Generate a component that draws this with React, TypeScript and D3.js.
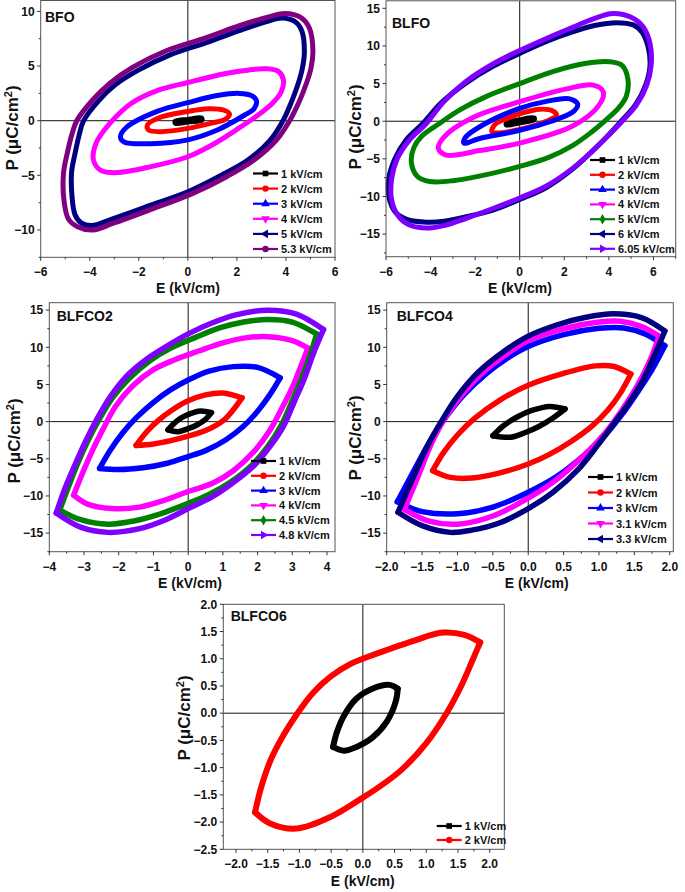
import React from 'react';
import * as d3 from 'd3';

type Pt = [number, number];

// ---------------- BFO ----------------
const bfoLabels = ['1 kV/cm', '2 kV/cm', '3 kV/cm', '4 kV/cm', '5 kV/cm', '5.3 kV/cm'];
const bfoColors = ['#000000', '#ff0000', '#0000ff', '#ff00ff', '#000080', '#800080'];
const bfoSymbols = ['square', 'circle', 'triUp', 'triDown', 'triLeft', 'circle'];
const bfo1: Pt[] = [[0.55, 0.25], [0.58, 0.05], [0, -0.12], [-0.5, -0.25], [-0.52, -0.05], [0, 0.12]];
const bfo2: Pt[] = [[0.8, 1.1], [1.45, 0.98], [1.7, 0.6], [1.5, 0.1], [1.0, -0.2], [0, -0.7], [-1.1, -1.0], [-1.6, -0.85], [-1.65, -0.4], [-1.2, 0.25], [0, 0.85]];
const bfo3: Pt[] = [[2.1, 2.5], [2.6, 2.3], [2.8, 1.8], [2.7, 1.1], [2.3, 0.5], [1.2, -0.85], [0, -1.75], [-1.5, -2.1], [-2.6, -1.95], [-2.75, -1.5], [-2.5, -0.6], [-1.2, 0.9], [0, 1.65], [1.2, 2.3]];
const bfo4: Pt[] = [[3.2, 4.75], [3.7, 4.5], [3.9, 3.7], [3.8, 2.6], [3.45, 1.6], [2.85, 0.5], [2.0, -0.8], [1.0, -2.2], [0, -3.3], [-1.5, -4.2], [-2.9, -4.75], [-3.55, -4.55], [-3.85, -3.6], [-3.75, -2.1], [-3.2, -0.3], [-2.3, 1.6], [-1.2, 2.8], [0, 3.5], [1.5, 4.3], [2.5, 4.65]];
const bfo5: Pt[] = [[3.85, 9.4], [4.38, 9.05], [4.65, 8.2], [4.75, 6.2], [4.65, 4.6], [4.47, 3.2], [4.22, 1.7], [3.88, 0], [3.35, -1.8], [2.45, -3.6], [1.35, -5.0], [0.05, -6.45], [-1.6, -7.8], [-3.1, -9.0], [-3.92, -9.6], [-4.35, -9.35], [-4.6, -8.6], [-4.72, -7.0], [-4.74, -4.7], [-4.6, -3], [-4.42, -1.2], [-4.25, 0], [-3.65, 1.8], [-2.95, 3.3], [-2.0, 4.65], [-0.75, 6.0], [0.75, 7.15], [2.1, 8.25], [3.25, 9.1]];
const bfo53: Pt[] = [[3.95, 9.8], [4.6, 9.45], [4.95, 8.5], [5.1, 6.4], [5.02, 4.8], [4.83, 3.4], [4.56, 1.85], [4.15, 0], [3.6, -1.8], [2.7, -3.6], [1.6, -5.1], [0.2, -6.65], [-1.6, -8.2], [-3.06, -9.4], [-3.88, -10], [-4.5, -9.7], [-4.87, -9.0], [-5.05, -7.3], [-5.07, -4.8], [-4.92, -3], [-4.72, -1.2], [-4.53, 0], [-3.9, 1.85], [-3.2, 3.4], [-2.24, 4.9], [-0.88, 6.4], [0.75, 7.6], [2.1, 8.7], [3.3, 9.5]];
const bfoLoops = [bfo1, bfo2, bfo3, bfo4, bfo5, bfo53];
const bfoXTicks = [-6, -4, -2, 0, 2, 4, 6];
const bfoYTicks = [-10, -5, 0, 5, 10];

// ---------------- BLFO ----------------
const blfoLabels = ['1 kV/cm', '2 kV/cm', '3 kV/cm', '4 kV/cm', '5 kV/cm', '6 kV/cm', '6.05 kV/cm'];
const blfoColors = ['#000000', '#ff0000', '#0000ff', '#ff00ff', '#008000', '#000080', '#8000ff'];
const blfoSymbols = ['square', 'circle', 'triUp', 'triDown', 'diamond', 'triLeft', 'triRight'];
const blfo1: Pt[] = [[0.65, 0.45], [0.65, 0.2], [0, -0.2], [-0.6, -0.5], [-0.6, -0.25], [0, 0.2]];
const blfo2: Pt[] = [[0.9, 1.6], [1.5, 1.35], [1.65, 0.8], [1.2, 0], [0, -1.1], [-0.9, -1.55], [-1.25, -1.35], [-1.1, -0.4], [-0.5, 0.45], [0, 1.0]];
const blfo3: Pt[] = [[2.2, 3.0], [2.6, 2.3], [2.45, 1.4], [1.8, 0.4], [0, -1.2], [-1.8, -2.3], [-2.5, -2.9], [-2.45, -2.2], [-1.6, -0.4], [0, 1.7], [1.3, 2.7]];
const blfo4: Pt[] = [[3.3, 4.8], [3.75, 3.9], [3.55, 2.1], [2.4, -0.6], [0, -2.9], [-1.8, -3.9], [-3.3, -4.5], [-3.65, -3.6], [-3.4, -2.1], [-2.1, 0.5], [0, 2.6], [2.1, 4.3]];
const blfo5: Pt[] = [[4.04, 7.9], [4.6, 7.4], [4.86, 5.5], [4.78, 3.3], [4.45, 1.8], [3.85, 0.1], [3.2, -1.5], [2.39, -3.2], [1.3, -4.8], [0, -6.0], [-1.49, -7.1], [-2.99, -7.9], [-4.04, -8.0], [-4.6, -7.3], [-4.86, -5.5], [-4.75, -3.5], [-4.4, -2.0], [-3.6, -0.3], [-2.69, 1.5], [-1.49, 3.3], [0, 5.0], [1.49, 6.6], [2.99, 7.7]];
const blfo6: Pt[] = [[4.33, 13.1], [5.1, 12.8], [5.5, 11.8], [5.75, 10.0], [5.85, 7.5], [5.65, 4.8], [5.2, 2.2], [4.55, 0], [3.6, -3.0], [2.4, -6.3], [1.2, -8.8], [0, -10.4], [-1.2, -11.8], [-2.4, -12.7], [-3.4, -13.3], [-4.3, -13.4], [-5.1, -13.0], [-5.6, -12.0], [-5.85, -10.3], [-5.88, -7.7], [-5.6, -5.0], [-5.1, -2.5], [-4.35, -0.3], [-3.5, 2.5], [-2.4, 5.1], [-1.2, 7.3], [0, 9.0], [1.2, 10.6], [2.4, 11.9], [3.4, 12.75]];
const blfo605: Pt[] = [[4.19, 14.3], [5.0, 13.8], [5.55, 12.5], [5.85, 10.3], [5.9, 7.5], [5.7, 4.8], [5.25, 2.2], [4.6, 0], [3.6, -3.0], [2.4, -6.2], [1.2, -8.6], [0, -10.2], [-1.2, -11.6], [-2.4, -12.9], [-3.3, -13.8], [-4.19, -14.2], [-4.95, -13.8], [-5.45, -12.6], [-5.75, -10.4], [-5.75, -7.7], [-5.5, -5.0], [-4.95, -2.5], [-4.19, -0.3], [-3.4, 2.6], [-2.4, 5.3], [-1.2, 7.6], [0, 9.4], [1.2, 11.0], [2.4, 12.5], [3.3, 13.6]];
const blfoLoops = [blfo1, blfo2, blfo3, blfo4, blfo5, blfo6, blfo605];
const blfoXTicks = [-6, -4, -2, 0, 2, 4, 6];
const blfoYTicks = [-15, -10, -5, 0, 5, 10, 15];

// ---------------- BLFCO2 ----------------
const blfco2Labels = ['1 kV/cm', '2 kV/cm', '3 kV/cm', '4 kV/cm', '4.5 kV/cm', '4.8 kV/cm'];
const blfco2Colors = ['#000000', '#ff0000', '#0000ff', '#ff00ff', '#008000', '#8000ff'];
const blfco2Symbols = ['square', 'circle', 'triUp', 'triDown', 'diamond', 'triRight'];
const blfco2_1_up: Pt[] = [[-0.58, -1.1], [-0.42, -0.3], [-0.2, 0.5], [0.05, 1.05], [0.35, 1.42], [0.67, 1.2]];
const blfco2_1_dn: Pt[] = [[0.67, 1.2], [0.5, 0.3], [0.25, -0.45], [0, -0.95], [-0.3, -1.35], [-0.58, -1.1]];
const blfco2_2_up: Pt[] = [[-1.5, -3.2], [-1.2, -1.4], [-0.85, 0.2], [-0.45, 1.6], [0, 2.8], [0.5, 3.6], [1.0, 3.85], [1.55, 3.2]];
const blfco2_2_dn: Pt[] = [[1.55, 3.2], [1.3, 1.6], [1.0, 0.1], [0.5, -1.2], [0, -1.95], [-0.5, -2.55], [-1.0, -3.0], [-1.5, -3.2]];
const blfco2_3_up: Pt[] = [[-2.55, -6.3], [-2.25, -3.9], [-1.9, -1.6], [-1.5, 0.5], [-1.0, 2.6], [-0.5, 4.3], [0, 5.6], [0.6, 6.8], [1.3, 7.4], [2.0, 7.3], [2.65, 5.9]];
const blfco2_3_dn: Pt[] = [[2.65, 5.9], [2.35, 3.6], [2.0, 1.4], [1.6, -0.6], [1.1, -2.4], [0.5, -3.9], [0, -4.7], [-0.6, -5.6], [-1.3, -6.2], [-2.0, -6.45], [-2.55, -6.3]];
const blfco2_4_up: Pt[] = [[-3.3, -9.9], [-3.05, -7.0], [-2.75, -3.8], [-2.45, -1.0], [-2.1, 2.0], [-1.6, 4.8], [-1.0, 7.0], [-0.4, 8.3], [0.3, 9.5], [1.0, 10.6], [1.7, 11.3], [2.4, 11.4], [3.0, 10.9], [3.45, 9.9]];
const blfco2_4_dn: Pt[] = [[3.45, 9.9], [3.25, 7.5], [3.0, 4.6], [2.7, 1.8], [2.35, -1.2], [1.9, -4.0], [1.3, -6.6], [0.7, -8.3], [0, -9.4], [-0.7, -10.6], [-1.4, -11.5], [-2.2, -11.7], [-2.9, -11.1], [-3.3, -9.9]];
const blfco2_45_up: Pt[] = [[-3.7, -11.9], [-3.45, -8.8], [-3.17, -5.5], [-2.88, -2.5], [-2.55, 0.4], [-2.18, 3.2], [-1.7, 5.8], [-1.1, 8.2], [-0.5, 9.9], [0.2, 11.3], [0.9, 12.6], [1.6, 13.4], [2.3, 13.75], [3.0, 13.4], [3.7, 11.8]];
const blfco2_45_dn: Pt[] = [[3.7, 11.8], [3.52, 9.0], [3.25, 5.6], [2.97, 2.5], [2.68, -0.5], [2.3, -3.3], [1.8, -6.0], [1.2, -8.2], [0.6, -9.8], [0, -11.0], [-0.8, -12.4], [-1.6, -13.4], [-2.3, -13.8], [-3.1, -13.2], [-3.7, -11.9]];
const blfco2_48_up: Pt[] = [[-3.8, -12.3], [-3.55, -9.0], [-3.25, -5.7], [-2.95, -2.6], [-2.62, 0.4], [-2.25, 3.3], [-1.8, 6.0], [-1.2, 8.4], [-0.6, 10.2], [0, 11.8], [0.7, 13.3], [1.4, 14.4], [2.3, 15.0], [3.1, 14.5], [3.9, 12.4]];
const blfco2_48_dn: Pt[] = [[3.9, 12.4], [3.62, 9.3], [3.34, 5.7], [3.05, 2.6], [2.76, -0.5], [2.38, -3.2], [1.9, -5.9], [1.3, -8.2], [0.7, -10.1], [0, -11.7], [-0.7, -13.3], [-1.4, -14.4], [-2.3, -14.9], [-3.1, -14.2], [-3.8, -12.3]];
const blfco2Loops: Pt[][][] = [
  [blfco2_1_up, blfco2_1_dn], [blfco2_2_up, blfco2_2_dn], [blfco2_3_up, blfco2_3_dn],
  [blfco2_4_up, blfco2_4_dn], [blfco2_45_up, blfco2_45_dn], [blfco2_48_up, blfco2_48_dn],
];
const blfco2XTicks = [-4, -3, -2, -1, 0, 1, 2, 3, 4];
const blfco2YTicks = [-15, -10, -5, 0, 5, 10, 15];

// ---------------- BLFCO4 ----------------
const blfco4Labels = ['1 kV/cm', '2 kV/cm', '3 kV/cm', '3.1 kV/cm', '3.3 kV/cm'];
const blfco4Colors = ['#000000', '#ff0000', '#0000ff', '#ff00ff', '#000080'];
const blfco4Symbols = ['square', 'circle', 'triUp', 'triDown', 'triLeft'];
const blfco4_1_up: Pt[] = [[-0.5, -1.9], [-0.35, -0.55], [-0.15, 0.65], [0.05, 1.5], [0.3, 2.05], [0.52, 1.7]];
const blfco4_1_dn: Pt[] = [[0.52, 1.7], [0.35, 0.5], [0.15, -0.65], [-0.05, -1.5], [-0.25, -2.1], [-0.5, -1.9]];
const blfco4_2_up: Pt[] = [[-1.35, -6.6], [-1.2, -4.2], [-1.0, -1.8], [-0.75, 0.5], [-0.4, 2.9], [0, 4.9], [0.5, 6.5], [0.95, 7.5], [1.2, 7.45], [1.45, 6.4]];
const blfco4_2_dn: Pt[] = [[1.45, 6.4], [1.3, 3.8], [1.12, 1.5], [0.9, -0.6], [0.6, -2.7], [0.3, -4.4], [0, -5.7], [-0.4, -6.9], [-0.8, -7.6], [-1.1, -7.5], [-1.35, -6.6]];
const blfco4_3_up: Pt[] = [[-1.85, -10.8], [-1.6, -6.3], [-1.38, -2.5], [-1.18, 0.4], [-0.92, 3.5], [-0.6, 6.4], [-0.3, 8.5], [0, 10.1], [0.5, 11.7], [1.0, 12.55], [1.35, 12.6], [1.65, 11.8], [1.93, 10.2]];
const blfco4_3_dn: Pt[] = [[1.93, 10.2], [1.75, 7.0], [1.54, 3.9], [1.32, 0.9], [1.08, -1.9], [0.78, -4.6], [0.4, -7.4], [0, -9.5], [-0.5, -11.5], [-1.0, -12.4], [-1.5, -12.1], [-1.85, -10.8]];
const blfco4_31_up: Pt[] = [[-1.75, -11.8], [-1.55, -7.2], [-1.36, -2.8], [-1.18, 0.4], [-0.92, 3.8], [-0.62, 6.8], [-0.3, 9.1], [0, 10.9], [0.5, 12.5], [1.0, 13.4], [1.3, 13.5], [1.6, 12.8], [1.85, 11.5]];
const blfco4_31_dn: Pt[] = [[1.85, 11.5], [1.72, 8.2], [1.54, 4.8], [1.32, 1.5], [1.08, -1.6], [0.78, -4.6], [0.4, -7.8], [0, -10.3], [-0.5, -12.7], [-1.0, -13.8], [-1.4, -13.4], [-1.75, -11.8]];
const blfco4_33_up: Pt[] = [[-1.84, -12.2], [-1.62, -7.4], [-1.42, -3.2], [-1.23, 0], [-1.0, 3.4], [-0.7, 6.7], [-0.35, 9.4], [0, 11.5], [0.4, 13.0], [0.8, 14.0], [1.2, 14.5], [1.6, 14.0], [1.93, 12.2]];
const blfco4_33_dn: Pt[] = [[1.93, 12.2], [1.78, 8.8], [1.6, 5.2], [1.4, 2.2], [1.2, -0.4], [0.98, -3.2], [0.7, -6.5], [0.35, -9.5], [0, -11.7], [-0.4, -13.6], [-0.8, -14.6], [-1.1, -14.9], [-1.5, -14.0], [-1.84, -12.2]];
const blfco4Loops: Pt[][][] = [
  [blfco4_1_up, blfco4_1_dn], [blfco4_2_up, blfco4_2_dn], [blfco4_3_up, blfco4_3_dn],
  [blfco4_31_up, blfco4_31_dn], [blfco4_33_up, blfco4_33_dn],
];
const blfco4XTicks = [-2, -1.5, -1, -0.5, 0, 0.5, 1, 1.5, 2];
const blfco4YTicks = [-15, -10, -5, 0, 5, 10, 15];

// ---------------- BLFCO6 ----------------
const blfco6Labels = ['1 kV/cm', '2 kV/cm'];
const blfco6Colors = ['#000000', '#ff0000'];
const blfco6Symbols = ['square', 'circle'];
const blfco6_1_up: Pt[] = [[-0.47, -0.62], [-0.41, -0.35], [-0.3, -0.05], [-0.1, 0.27], [0.15, 0.45], [0.42, 0.52], [0.55, 0.45]];
const blfco6_1_dn: Pt[] = [[0.55, 0.45], [0.52, 0.22], [0.38, -0.15], [0.15, -0.45], [-0.1, -0.62], [-0.3, -0.69], [-0.47, -0.62]];
const blfco6_2_up: Pt[] = [[-1.7, -1.82], [-1.6, -1.35], [-1.45, -0.85], [-1.25, -0.4], [-1.03, 0], [-0.78, 0.38], [-0.5, 0.68], [-0.2, 0.9], [0, 1.0], [0.4, 1.17], [0.8, 1.33], [1.26, 1.48], [1.6, 1.44], [1.85, 1.3]];
const blfco6_2_dn: Pt[] = [[1.85, 1.3], [1.72, 0.95], [1.55, 0.5], [1.32, 0], [1.0, -0.55], [0.6, -1.05], [0.2, -1.4], [0, -1.55], [-0.5, -1.9], [-1.05, -2.12], [-1.47, -2.02], [-1.7, -1.82]];
const blfco6Loops: Pt[][][] = [[blfco6_1_up, blfco6_1_dn], [blfco6_2_up, blfco6_2_dn]];
const blfco6XTicks = [-2, -1.5, -1, -0.5, 0, 0.5, 1, 1.5, 2];
const blfco6YTicks = [-2.5, -2, -1.5, -1, -0.5, 0, 0.5, 1, 1.5, 2];

// ---------------- layout ----------------
type Layout = {
  x0: number; x1: number; y0: number; y1: number;
  xDomain: [number, number]; yDomain: [number, number];
  xFmt: string; yFmt: string;
  name: string; nameX: number; nameY: number;
  xTitleX: number; xTitleY: number; yTitleX: number; yTitleY: number;
  legX: number; legY: number; legStep: number; sw: number;
};

const FONT = '"Liberation Sans", Arial, Helvetica, sans-serif';

const layouts: Layout[] = [
  { x0: 40.7, x1: 335, y0: 0.5, y1: 257.3, xDomain: [-6, 6], yDomain: [-12.5, 11], xFmt: 'd', yFmt: 'd', name: 'BFO', nameX: 45, nameY: 21.5, xTitleX: 188, xTitleY: 292.5, yTitleX: 18, yTitleY: 128, legX: 253, legY: 173.5, legStep: 15.1, sw: 5 },
  { x0: 386, x1: 675.7, y0: 0.8, y1: 256.7, xDomain: [-6, 7], yDomain: [-18, 16], xFmt: 'd', yFmt: 'd', name: 'BLFO', nameX: 392, nameY: 27.5, xTitleX: 520, xTitleY: 292.5, yTitleX: 361, yTitleY: 127, legX: 590, legY: 160, legStep: 14.8, sw: 5 },
  { x0: 49.3, x1: 335, y0: 302.7, y1: 551.7, xDomain: [-4, 4.23], yDomain: [-17.5, 16], xFmt: 'd', yFmt: 'd', name: 'BLFCO2', nameX: 56.7, nameY: 320.7, xTitleX: 190, xTitleY: 588, yTitleX: 20, yTitleY: 441, legX: 251, legY: 461, legStep: 14.8, sw: 5.5 },
  { x0: 386.7, x1: 673.3, y0: 302.7, y1: 551.7, xDomain: [-2, 2.05], yDomain: [-17.5, 16], xFmt: '.1f', yFmt: 'd', name: 'BLFCO4', nameX: 396.7, nameY: 320.7, xTitleX: 536.7, xTitleY: 588, yTitleX: 361, yTitleY: 438, legX: 588, legY: 477, legStep: 15.5, sw: 5.5 },
  { x0: 223.3, x1: 504.3, y0: 604.3, y1: 849.3, xDomain: [-2.2, 2.23], yDomain: [-2.5, 2.0], xFmt: '.1f', yFmt: '.1f', name: 'BLFCO6', nameX: 230.7, nameY: 621, xTitleX: 362.7, xTitleY: 886, yTitleX: 190, yTitleY: 718, legX: 436.7, legY: 826, legStep: 14, sw: 6 },
];

function symbolPath(kind: string): { d: string; rot: number } {
  const size = 32;
  switch (kind) {
    case 'square': return { d: d3.symbol().type(d3.symbolSquare).size(size)() || '', rot: 0 };
    case 'circle': return { d: d3.symbol().type(d3.symbolCircle).size(size)() || '', rot: 0 };
    case 'diamond': return { d: d3.symbol().type(d3.symbolDiamond).size(size)() || '', rot: 0 };
    case 'triUp': return { d: d3.symbol().type(d3.symbolTriangle).size(size)() || '', rot: 0 };
    case 'triDown': return { d: d3.symbol().type(d3.symbolTriangle).size(size)() || '', rot: 180 };
    case 'triLeft': return { d: d3.symbol().type(d3.symbolTriangle).size(size)() || '', rot: -90 };
    case 'triRight': return { d: d3.symbol().type(d3.symbolTriangle).size(size)() || '', rot: 90 };
  }
  return { d: '', rot: 0 };
}

function minorTicks(major: number[], domain: [number, number]): number[] {
  const step = major[1] - major[0];
  const out: number[] = [];
  const start = major[0] - step / 2;
  for (let v = start; v <= domain[1] + 1e-9; v += step) {
    if (v >= domain[0] - 1e-9) out.push(v);
  }
  return out;
}

type PanelProps = {
  lay: Layout;
  closedLoops?: Pt[][];
  branchLoops?: Pt[][][];
  labels: string[];
  colors: string[];
  symbols: string[];
  xTicks: number[];
  yTicks: number[];
};

function Panel({ lay, closedLoops, branchLoops, labels, colors, symbols, xTicks, yTicks }: PanelProps) {
  const x = d3.scaleLinear().domain(lay.xDomain).range([lay.x0, lay.x1]);
  const y = d3.scaleLinear().domain(lay.yDomain).range([lay.y1, lay.y0]);
  const closedLine = d3.line<Pt>().x(d => x(d[0])).y(d => y(d[1])).curve(d3.curveCatmullRomClosed.alpha(0.5));
  const openLine = d3.line<Pt>().x(d => x(d[0])).y(d => y(d[1])).curve(d3.curveCatmullRom.alpha(0.5));
  const xf = d3.format(lay.xFmt);
  const yf = d3.format(lay.yFmt);
  const xMinor = minorTicks(xTicks, lay.xDomain);
  const yMinor = minorTicks(yTicks, lay.yDomain);
  const sw = lay.sw;
  return (
    <g>
      <line x1={x(0)} x2={x(0)} y1={lay.y0} y2={lay.y1} stroke="#111" strokeWidth={1} />
      <line x1={lay.x0} x2={lay.x1} y1={y(0)} y2={y(0)} stroke="#111" strokeWidth={1} />
      {closedLoops && closedLoops.map((pts, i) => (
        <path key={'c' + i} d={closedLine(pts) || ''} fill="none" stroke={colors[i]} strokeWidth={sw} strokeLinejoin="round" />
      ))}
      {branchLoops && branchLoops.map((br, i) => (
        <g key={'b' + i}>
          {br.map((pts, j) => (
            <path key={j} d={openLine(pts) || ''} fill="none" stroke={colors[i]} strokeWidth={sw} strokeLinecap="round" strokeLinejoin="round" />
          ))}
        </g>
      ))}
      <rect x={lay.x0} y={lay.y0} width={lay.x1 - lay.x0} height={lay.y1 - lay.y0} fill="none" stroke="#555" strokeWidth={1} />
      {xTicks.map(t => (
        <g key={'xt' + t}>
          <line x1={x(t)} x2={x(t)} y1={lay.y1} y2={lay.y1 + 3.5} stroke="#333" strokeWidth={1} />
          <text x={x(t)} y={lay.y1 + 19} textAnchor="middle" fontFamily={FONT} fontWeight="bold" fontSize={12} fill="#111">{xf(t)}</text>
        </g>
      ))}
      {xMinor.map(t => (
        <line key={'xm' + t} x1={x(t)} x2={x(t)} y1={lay.y1} y2={lay.y1 + 2} stroke="#333" strokeWidth={1} />
      ))}
      {yTicks.map(t => (
        <g key={'yt' + t}>
          <line x1={lay.x0 - 3.5} x2={lay.x0} y1={y(t)} y2={y(t)} stroke="#333" strokeWidth={1} />
          <text x={lay.x0 - 6} y={y(t) + 4.3} textAnchor="end" fontFamily={FONT} fontWeight="bold" fontSize={12} fill="#111">{yf(t)}</text>
        </g>
      ))}
      {yMinor.map(t => (
        <line key={'ym' + t} x1={lay.x0 - 2} x2={lay.x0} y1={y(t)} y2={y(t)} stroke="#333" strokeWidth={1} />
      ))}
      <text x={lay.nameX} y={lay.nameY} fontFamily={FONT} fontWeight="bold" fontSize={14} fill="#111">{lay.name}</text>
      <text x={lay.xTitleX} y={lay.xTitleY} textAnchor="middle" fontFamily={FONT} fontWeight="bold" fontSize={14} fill="#111">E (kV/cm)</text>
      <text transform={`translate(${lay.yTitleX},${lay.yTitleY}) rotate(-90)`} textAnchor="middle" fontFamily={FONT} fontWeight="bold" fontSize={17} fill="#111">
        P (μC/cm<tspan fontSize={11} dy={-6}>2</tspan><tspan dy={6}>)</tspan>
      </text>
      {labels.map((lab, i) => {
        const yy = lay.legY + i * lay.legStep;
        const s = symbolPath(symbols[i]);
        return (
          <g key={'lg' + i}>
            <line x1={lay.legX} x2={lay.legX + 25} y1={yy} y2={yy} stroke={colors[i]} strokeWidth={2.2} />
            <path d={s.d} transform={`translate(${lay.legX + 12.5},${yy}) rotate(${s.rot})`} fill={colors[i]} />
            <text x={lay.legX + 28} y={yy + 4} fontFamily={FONT} fontWeight="bold" fontSize={11} fill="#111">{lab}</text>
          </g>
        );
      })}
    </g>
  );
}

export default function App() {
  return (
    <svg width={685} height={892} viewBox="0 0 685 892" style={{ position: 'absolute', left: 0, top: 0, background: '#fff' }}>
      <rect x={0} y={0} width={685} height={892} fill="#fff" />
      <Panel lay={layouts[0]} closedLoops={bfoLoops} labels={bfoLabels} colors={bfoColors} symbols={bfoSymbols} xTicks={bfoXTicks} yTicks={bfoYTicks} />
      <Panel lay={layouts[1]} closedLoops={blfoLoops} labels={blfoLabels} colors={blfoColors} symbols={blfoSymbols} xTicks={blfoXTicks} yTicks={blfoYTicks} />
      <Panel lay={layouts[2]} branchLoops={blfco2Loops} labels={blfco2Labels} colors={blfco2Colors} symbols={blfco2Symbols} xTicks={blfco2XTicks} yTicks={blfco2YTicks} />
      <Panel lay={layouts[3]} branchLoops={blfco4Loops} labels={blfco4Labels} colors={blfco4Colors} symbols={blfco4Symbols} xTicks={blfco4XTicks} yTicks={blfco4YTicks} />
      <Panel lay={layouts[4]} branchLoops={blfco6Loops} labels={blfco6Labels} colors={blfco6Colors} symbols={blfco6Symbols} xTicks={blfco6XTicks} yTicks={blfco6YTicks} />
    </svg>
  );
}
